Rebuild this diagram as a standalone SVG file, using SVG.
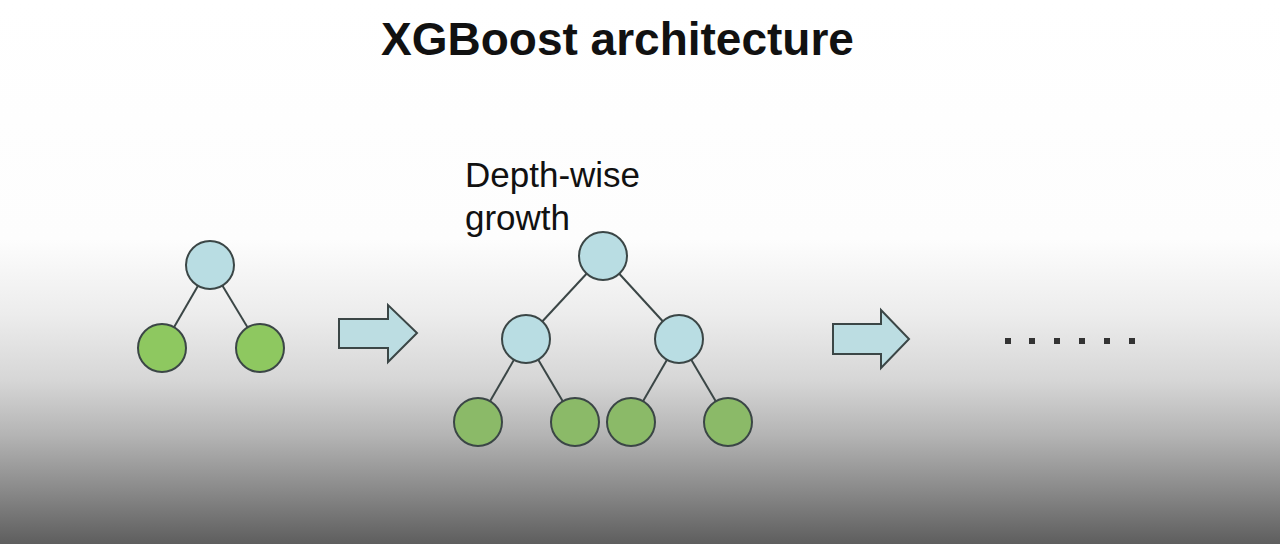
<svg xmlns="http://www.w3.org/2000/svg" width="1280" height="544" viewBox="0 0 1280 544">
<defs>
<linearGradient id="bg" x1="0" y1="0" x2="0" y2="1">
<stop offset="0" stop-color="#ffffff"/>
<stop offset="0.44" stop-color="#fdfdfd"/>
<stop offset="0.58" stop-color="#ececec"/>
<stop offset="0.70" stop-color="#d6d6d6"/>
<stop offset="0.80" stop-color="#b4b4b4"/>
<stop offset="0.90" stop-color="#8a8a8a"/>
<stop offset="1" stop-color="#5e5e5e"/>
</linearGradient>
<style>
.inner{fill:#b9dde3;stroke:#3b4646;stroke-width:2}
.leaf1{fill:#8ec860;stroke:#3b4646;stroke-width:2}
.leaf2{fill:#8bba68;stroke:#3b4646;stroke-width:2}
.edge{stroke:#3b4646;stroke-width:2;fill:none}
.arrow{fill:#bcdde2;stroke:#3b4646;stroke-width:2;stroke-linejoin:miter}
.lbl{font-family:"Liberation Sans",Arial,sans-serif;fill:#111}
.dot{fill:#333}
</style>
</defs>
<rect x="0" y="0" width="1280" height="544" fill="url(#bg)"/>
<text class="lbl" x="617.5" y="55" font-size="46" font-weight="bold" text-anchor="middle">XGBoost architecture</text>
<text class="lbl" x="465" y="187" font-size="35">Depth-wise</text>
<text class="lbl" x="465" y="230" font-size="35">growth</text>
<g id="connectors">
<line class="edge" x1="210" y1="265" x2="162" y2="348"/>
<line class="edge" x1="210" y1="265" x2="260" y2="348"/>
<line class="edge" x1="603" y1="256" x2="526" y2="339"/>
<line class="edge" x1="603" y1="256" x2="679" y2="339"/>
<line class="edge" x1="526" y1="339" x2="478" y2="422"/>
<line class="edge" x1="526" y1="339" x2="575" y2="422"/>
<line class="edge" x1="679" y1="339" x2="631" y2="422"/>
<line class="edge" x1="679" y1="339" x2="728" y2="422"/>
</g>
<g id="t1-root"><circle class="inner" cx="210" cy="265" r="24"/></g>
<g id="t1-leaf-l"><circle class="leaf1" cx="162" cy="348" r="24"/></g>
<g id="t1-leaf-r"><circle class="leaf1" cx="260" cy="348" r="24"/></g>
<g id="arrow1"><polygon class="arrow" points="339,319 388,319 388,305 417,333 388,362 388,348 339,348"/></g>
<g id="t2-root"><circle class="inner" cx="603" cy="256" r="24"/></g>
<g id="t2-mid-l"><circle class="inner" cx="526" cy="339" r="24"/></g>
<g id="t2-mid-r"><circle class="inner" cx="679" cy="339" r="24"/></g>
<g id="t2-leaf-1"><circle class="leaf2" cx="478" cy="422" r="24"/></g>
<g id="t2-leaf-2"><circle class="leaf2" cx="575" cy="422" r="24"/></g>
<g id="t2-leaf-3"><circle class="leaf2" cx="631" cy="422" r="24"/></g>
<g id="t2-leaf-4"><circle class="leaf2" cx="728" cy="422" r="24"/></g>
<g id="arrow2"><polygon class="arrow" points="833,324 881,324 881,310 909,339 881,368 881,354 833,354"/></g>
<g id="ellipsis">
<rect class="dot" x="1005" y="338" width="6" height="6"/>
<rect class="dot" x="1029" y="338" width="6" height="6"/>
<rect class="dot" x="1054" y="338" width="6" height="6"/>
<rect class="dot" x="1079" y="338" width="6" height="6"/>
<rect class="dot" x="1104" y="338" width="6" height="6"/>
<rect class="dot" x="1129" y="338" width="6" height="6"/>
</g>
</svg>
